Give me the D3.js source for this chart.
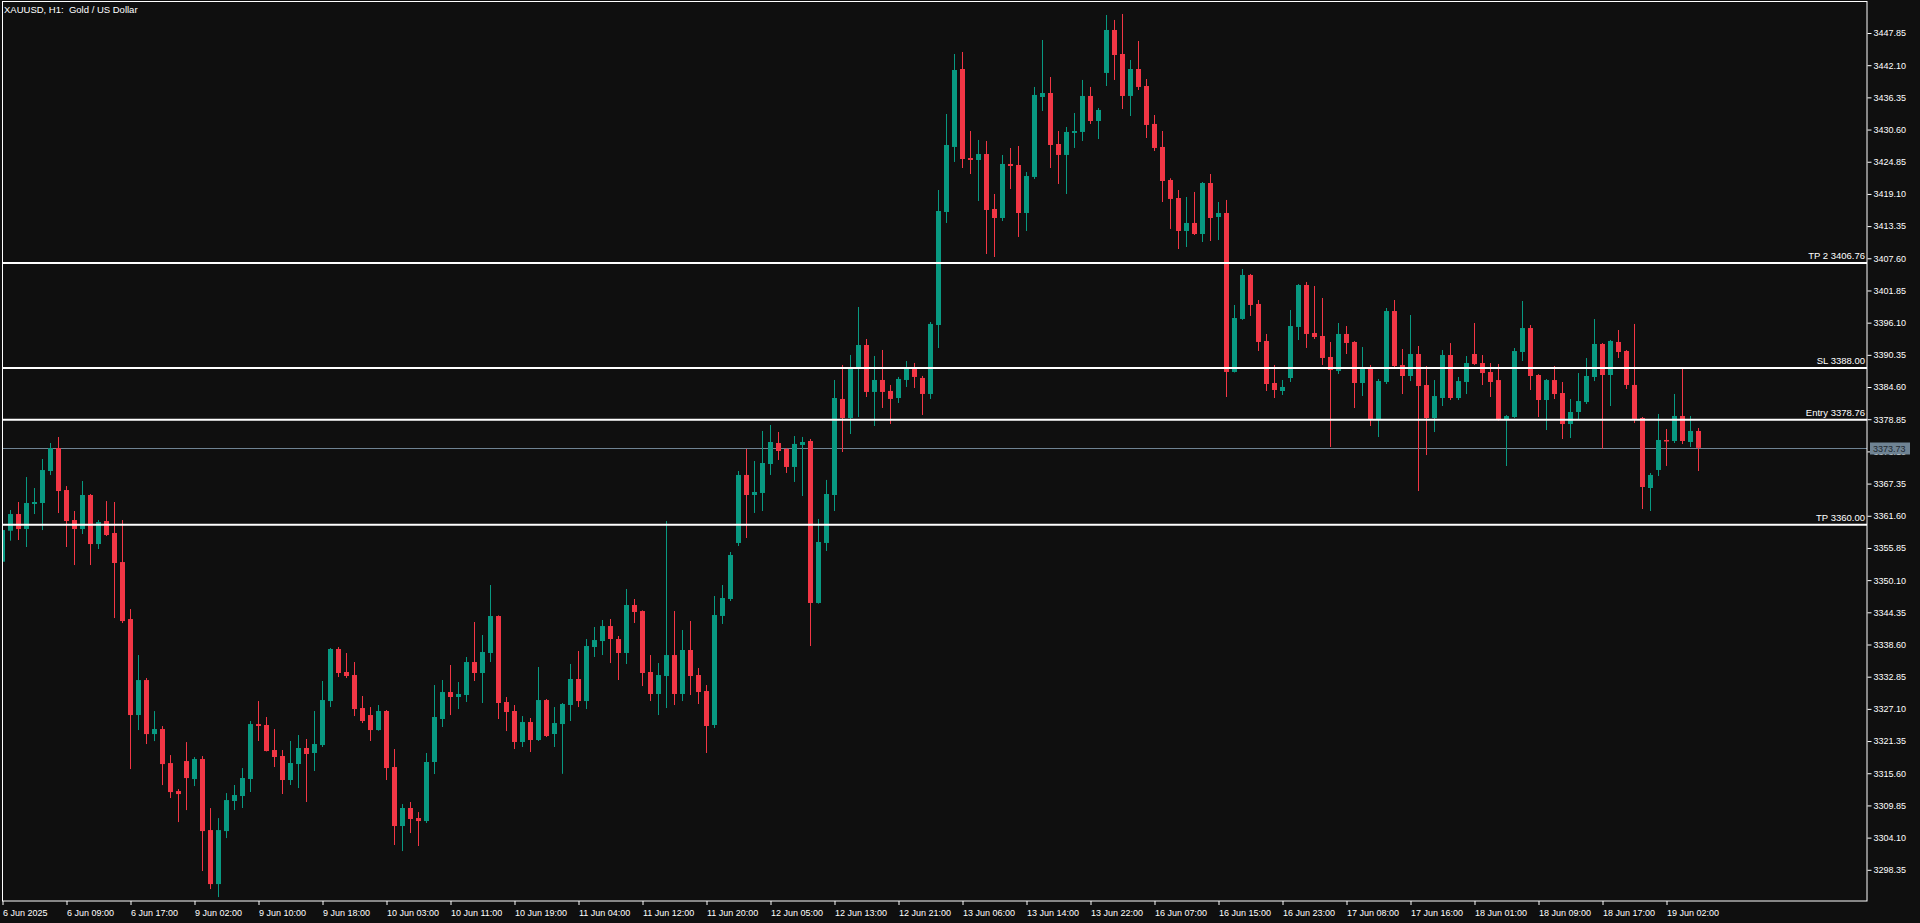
<!DOCTYPE html>
<html><head><meta charset="utf-8">
<script src="https://cdn.jsdelivr.net/npm/d3@7/dist/d3.min.js"></script>
<style>
html,body{margin:0;padding:0;background:#0f0f0f;overflow:hidden}
svg{display:block}
text{font-family:"Liberation Sans",Arial,sans-serif}
</style></head><body>
<script>
// ---- data (H1 bars, index 0 = 6 Jun 2025 01:00) ----
const opens=[3353.39,3358.93,3361.91,3359.23,3363.70,3363.88,3369.60,3373.70,3366.20,3360.84,
3359.23,3365.31,3356.55,3360.66,3358.52,3353.33,3343.15,3326.00,3332.25,3322.60,
3323.50,3317.42,3312.42,3317.78,3314.56,3318.14,3305.45,3295.80,3305.27,3310.64,
3311.53,3314.57,3324.39,3324.22,3319.75,3318.68,3314.39,3317.25,3320.11,3319.22,
3320.64,3328.50,3337.80,3333.69,3333.15,3327.25,3326.00,3323.32,3326.72,3316.71,
3306.17,3309.39,3307.60,3307.06,3317.61,3325.29,3330.11,3329.22,3329.58,3335.47,
3333.51,3337.08,3343.69,3328.33,3326.72,3321.18,3324.75,3321.54,3328.68,3322.61,
3324.39,3327.79,3332.44,3328.50,3338.15,3339.22,3341.90,3339.58,3337.08,3345.66,
3344.58,3333.69,3329.76,3332.97,3336.72,3329.76,3337.62,3333.15,3330.29,3324.22,
3343.70,3346.73,3356.74,3368.89,3365.31,3365.67,3370.85,3374.60,3373.53,3370.32,
3374.25,3374.96,3346.02,3356.74,3365.31,3382.47,3379.07,3387.83,3392.11,3383.72,
3385.86,3383.90,3382.64,3385.86,3387.83,3386.22,3383.36,3395.68,3415.87,3427.49,
3441.42,3425.52,3425.16,3426.23,3416.41,3414.80,3424.45,3424.27,3415.69,3422.13,
3436.42,3437.13,3428.02,3426.06,3429.99,3430.17,3436.60,3432.13,3440.71,3448.39,
3444.10,3436.60,3441.42,3438.38,3431.60,3427.49,3421.59,3418.37,3412.48,3413.91,
3411.94,3421.05,3414.98,3415.69,3387.29,3396.76,3404.62,3399.44,3392.83,3385.32,
3383.89,3386.21,3395.33,3402.83,3394.25,3393.72,3389.97,3387.47,3394.08,3392.65,
3385.32,3388.18,3378.89,3385.50,3398.18,3388.53,3386.57,3390.50,3384.96,3379.06,
3382.64,3390.32,3382.64,3385.50,3390.50,3388.89,3387.28,3385.85,3378.71,3379.24,
3390.86,3395.14,3386.75,3382.28,3385.85,3383.53,3377.99,3380.14,3381.92,3386.39,
3392.29,3386.75,3392.65,3391.04,3384.97,3379.07,3366.56,3369.78,3375.14,3374.96,
3379.43,3374.78,3376.75];
const highs=[3359.30,3362.63,3364.06,3368.52,3366.56,3371.74,3374.60,3375.67,3366.91,3362.45,
3367.81,3365.49,3360.84,3364.23,3364.06,3360.84,3344.94,3336.72,3332.61,3326.71,
3324.03,3318.85,3312.78,3321.17,3318.49,3318.67,3309.38,3307.59,3312.06,3313.50,
3316.53,3324.93,3328.50,3325.65,3323.50,3319.75,3321.36,3322.43,3321.72,3326.72,
3332.08,3337.97,3338.15,3337.08,3335.47,3329.40,3327.43,3327.79,3326.90,3319.93,
3310.10,3310.46,3308.67,3319.22,3331.36,3332.26,3334.94,3331.90,3336.37,3342.62,
3340.30,3349.23,3343.80,3329.22,3327.79,3325.82,3325.47,3334.58,3328.86,3327.43,
3328.15,3335.12,3337.44,3339.58,3341.73,3342.98,3343.16,3340.12,3348.52,3346.73,
3344.70,3336.72,3335.29,3360.66,3344.58,3341.19,3342.80,3334.40,3331.36,3347.27,
3349.23,3355.13,3369.60,3373.53,3371.39,3376.75,3377.82,3376.57,3373.71,3375.85,
3375.68,3375.32,3361.03,3368.00,3385.86,3388.54,3390.33,3398.90,3393.18,3390.15,
3391.22,3384.97,3386.40,3389.25,3388.90,3386.58,3396.22,3419.80,3433.38,3444.10,
3444.46,3430.34,3428.74,3428.56,3419.09,3426.06,3427.31,3427.66,3423.02,3438.21,
3446.60,3439.99,3430.34,3431.06,3433.56,3439.46,3438.21,3434.45,3451.07,3450.18,
3451.25,3443.03,3446.42,3439.63,3433.20,3430.34,3421.90,3419.80,3418.55,3419.45,
3421.23,3422.66,3417.66,3418.02,3399.26,3405.69,3404.80,3400.15,3394.08,3388.54,
3385.86,3398.36,3403.00,3403.37,3402.65,3400.51,3392.65,3396.04,3395.50,3392.80,
3391.75,3388.54,3386.04,3398.72,3400.15,3391.39,3397.47,3391.93,3388.35,3385.85,
3391.21,3392.46,3386.39,3390.14,3396.04,3390.32,3388.89,3388.71,3379.60,3391.57,
3399.97,3395.68,3386.90,3386.03,3388.35,3385.50,3382.46,3387.10,3389.78,3396.75,
3392.46,3393.01,3394.79,3391.20,3395.87,3379.25,3369.24,3379.79,3377.10,3383.36,
3388.00,3379.43,3377.28];
const lows=[3353.10,3357.15,3357.27,3356.02,3361.91,3359.05,3368.88,3362.09,3356.02,3352.80,
3358.34,3352.80,3355.66,3357.98,3343.33,3342.44,3316.35,3323.32,3320.82,3321.35,
3313.49,3311.17,3306.88,3309.02,3313.31,3298.13,3294.91,3293.48,3304.02,3309.03,
3309.39,3312.25,3321.36,3319.50,3316.71,3311.89,3313.50,3312.96,3310.46,3316.00,
3320.29,3327.43,3332.79,3332.61,3325.82,3324.57,3321.36,3323.20,3314.39,3302.78,
3301.70,3304.92,3302.60,3306.71,3315.46,3323.86,3326.00,3327.07,3328.33,3332.08,
3328.15,3335.47,3325.29,3323.14,3319.93,3320.29,3319.39,3321.36,3322.07,3320.29,
3315.50,3324.93,3327.43,3327.07,3336.37,3336.72,3335.29,3332.26,3335.12,3342.44,
3331.18,3328.50,3326.00,3327.25,3327.79,3328.50,3329.58,3327.97,3319.22,3323.68,
3342.27,3346.37,3356.20,3357.63,3362.10,3362.45,3368.89,3371.57,3369.25,3367.64,
3365.13,3338.33,3345.90,3355.31,3362.45,3372.99,3376.21,3379.25,3382.82,3377.64,
3380.86,3378.00,3381.75,3384.61,3384.43,3379.61,3382.47,3391.57,3413.91,3424.81,
3423.73,3422.66,3417.84,3408.37,3407.83,3414.26,3419.98,3411.41,3412.48,3421.77,
3433.92,3423.73,3420.88,3419.09,3427.31,3428.56,3431.60,3428.91,3438.38,3439.46,
3434.27,3433.02,3437.67,3429.09,3426.77,3417.66,3412.84,3409.26,3409.62,3411.76,
3410.51,3410.69,3410.87,3382.82,3387.20,3396.60,3397.30,3391.04,3383.89,3382.64,
3383.18,3385.50,3393.00,3391.58,3393.18,3388.54,3373.89,3386.93,3390.50,3380.85,
3383.00,3377.64,3375.67,3385.14,3388.18,3383.35,3385.67,3366.02,3372.45,3376.56,
3381.21,3382.28,3382.28,3383.35,3388.53,3384.96,3382.82,3378.60,3370.49,3379.06,
3389.25,3384.07,3379.24,3376.92,3382.46,3375.31,3375.49,3378.89,3381.57,3385.67,
3373.53,3381.21,3389.79,3384.25,3378.18,3362.81,3362.45,3368.71,3370.50,3374.60,
3374.42,3373.89,3369.60];
const closes=[3359.05,3361.91,3359.23,3363.88,3364.06,3369.77,3373.70,3366.02,3360.66,3359.23,
3365.31,3356.55,3360.48,3358.16,3353.16,3342.79,3326.00,3332.25,3322.60,3323.50,
3317.24,3312.24,3311.88,3314.74,3318.14,3305.27,3295.80,3305.45,3310.81,3311.71,
3314.75,3324.39,3324.04,3319.57,3318.50,3314.39,3317.43,3320.11,3319.04,3320.82,
3328.68,3337.80,3333.51,3332.97,3327.07,3324.93,3323.32,3326.72,3316.53,3306.17,
3309.39,3307.42,3307.06,3317.61,3325.65,3330.11,3329.22,3329.76,3335.47,3333.51,
3337.26,3343.69,3328.15,3326.54,3321.18,3324.75,3321.54,3328.68,3322.25,3324.57,
3327.97,3332.44,3328.50,3338.33,3339.40,3341.90,3339.58,3337.08,3345.66,3344.41,
3333.51,3329.76,3333.15,3336.72,3329.76,3337.62,3332.97,3330.11,3324.04,3343.87,
3346.91,3354.59,3368.89,3365.31,3365.85,3371.03,3374.78,3373.17,3370.32,3374.43,
3374.78,3346.02,3356.92,3365.49,3382.64,3379.07,3387.83,3392.11,3383.72,3385.86,
3383.72,3382.47,3386.04,3387.83,3386.40,3383.36,3395.87,3416.05,3427.84,3441.24,
3425.34,3425.16,3426.23,3416.23,3414.80,3424.45,3424.09,3415.69,3422.30,3436.78,
3437.13,3427.84,3426.06,3430.17,3430.34,3436.60,3432.13,3434.10,3448.39,3443.92,
3436.60,3441.42,3438.21,3431.42,3427.31,3421.41,3418.20,3412.48,3413.91,3411.94,
3421.05,3414.80,3415.69,3387.29,3396.93,3404.62,3399.26,3392.65,3385.14,3384.07,
3384.61,3395.50,3402.83,3394.08,3393.54,3389.79,3387.64,3394.08,3392.47,3385.32,
3388.18,3378.89,3385.68,3398.18,3388.35,3386.57,3390.50,3384.78,3379.06,3382.99,
3390.32,3382.64,3385.67,3388.89,3388.71,3387.10,3385.50,3378.71,3379.42,3391.03,
3395.14,3386.57,3382.28,3385.85,3383.35,3377.99,3380.14,3382.10,3386.57,3392.29,
3386.75,3392.83,3390.86,3384.97,3378.89,3366.74,3368.89,3375.14,3374.96,3379.43,
3374.96,3376.75,3373.73];
const timeLabels=["6 Jun 2025","6 Jun 09:00","6 Jun 17:00","9 Jun 02:00","9 Jun 10:00","9 Jun 18:00",
"10 Jun 03:00","10 Jun 11:00","10 Jun 19:00","11 Jun 04:00","11 Jun 12:00","11 Jun 20:00",
"12 Jun 05:00","12 Jun 13:00","12 Jun 21:00","13 Jun 06:00","13 Jun 14:00","13 Jun 22:00",
"16 Jun 07:00","16 Jun 15:00","16 Jun 23:00","17 Jun 08:00","17 Jun 16:00","18 Jun 01:00",
"18 Jun 09:00","18 Jun 17:00","19 Jun 02:00"];
const timeLabelBars=[0,8,16,24,32,40,48,56,64,72,80,88,96,104,112,120,128,136,144,152,160,168,176,184,192,200,208];
const priceTicks=[3447.85,3442.10,3436.35,3430.60,3424.85,3419.10,3413.35,3407.60,3401.85,3396.10,
3390.35,3384.60,3378.85,3373.10,3367.35,3361.60,3355.85,3350.10,3344.35,3338.60,3332.85,3327.10,
3321.35,3315.60,3309.85,3304.10,3298.35];
const levelNames=["TP 2","SL","Entry","TP"];
const levelValues=[3406.76,3388.00,3378.76,3360.00];
const currentPrice=3373.73;
const title="XAUUSD, H1:  Gold / US Dollar";

// ---- drawing ----
const W=1920,H=923;
const UP="#089981", DOWN="#f23645";
const svg=d3.select("body").append("svg").attr("width",W).attr("height",H);
svg.append("rect").attr("width",W).attr("height",H).attr("fill","#0f0f0f");

const x=d3.scaleLinear().domain([0,233]).range([2.5,2.5+8*233]);
const y=d3.scaleLinear().domain([3298.35,3447.85]).range([869.8,33.0]);

svg.append("defs").append("clipPath").attr("id","plot")
  .append("rect").attr("x",3).attr("y",2).attr("width",1864).attr("height",899);

const bars=d3.range(opens.length).map(i=>({i,o:opens[i],h:highs[i],l:lows[i],c:closes[i]}));
const g=svg.append("g").attr("clip-path","url(#plot)");

// current price line
g.append("line").attr("x1",2).attr("x2",1867)
  .attr("y1",Math.round(y(currentPrice))+0.5).attr("y2",Math.round(y(currentPrice))+0.5)
  .attr("stroke","#6f8393").attr("stroke-width",1);

const cg=g.selectAll("g.c").data(bars).join("g").attr("class","c");
cg.append("rect")
  .attr("x",d=>x(d.i)-0.5).attr("width",1)
  .attr("y",d=>y(d.h)).attr("height",d=>Math.max(1,y(d.l)-y(d.h)))
  .attr("fill",d=>d.c>=d.o?UP:DOWN);
cg.append("rect")
  .attr("x",d=>x(d.i)-2.5).attr("width",5)
  .attr("y",d=>y(Math.max(d.o,d.c)))
  .attr("height",d=>Math.max(1.5,Math.abs(y(d.o)-y(d.c))))
  .attr("fill",d=>d.c>=d.o?UP:DOWN);

// level lines
levelValues.forEach((v,k)=>{
  const yy=y(v);
  svg.append("line").attr("x1",2).attr("x2",1867).attr("y1",yy).attr("y2",yy)
    .attr("stroke","#ffffff").attr("stroke-width",2);
  svg.append("text").attr("x",1865).attr("y",yy-3.5).attr("text-anchor","end")
    .attr("fill","#ffffff").attr("font-size","9.5px").text(levelNames[k]+" "+v.toFixed(2));
});

// frame
svg.append("rect").attr("x",2.5).attr("y",1.5).attr("width",1864.5).attr("height",899.5)
  .attr("fill","none").attr("stroke","#ffffff").attr("stroke-width",1);

// y axis
const ya=svg.append("g").attr("transform","translate(1867.5,0)")
  .call(d3.axisRight(y).tickValues(priceTicks).tickSize(4).tickPadding(2).tickFormat(d3.format(".2f")));
ya.select(".domain").remove();
ya.selectAll("line").attr("stroke","#ffffff");
ya.selectAll("text").attr("fill","#ffffff").attr("font-size","9px")
  .attr("font-family","'Liberation Sans',Arial,sans-serif");

// current price label
const cy=Math.round(y(currentPrice))+0.5;
svg.append("rect").attr("x",1870).attr("y",cy-6).attr("width",40).attr("height",12).attr("fill","#6f8393");
svg.append("text").attr("x",1873).attr("y",cy+3.3).attr("fill","#1e2830").attr("font-size","9px")
  .text(currentPrice.toFixed(2));

// x axis
const xa=svg.append("g").attr("transform","translate(0,901)")
  .call(d3.axisBottom(x).tickValues(timeLabelBars).tickSize(4).tickFormat((d,k)=>timeLabels[k]));
xa.select(".domain").remove();
xa.selectAll("line").attr("stroke","#ffffff");
xa.selectAll("text").attr("fill","#ffffff").attr("font-size","9px").attr("text-anchor","start")
  .attr("x",0).attr("y",14.5).attr("dy",0)
  .attr("font-family","'Liberation Sans',Arial,sans-serif");

// title
svg.append("text").attr("x",4).attr("y",12.5).attr("fill","#ffffff").attr("font-size","9.5px")
  .style("white-space","pre").text(title);
</script>
</body></html>
